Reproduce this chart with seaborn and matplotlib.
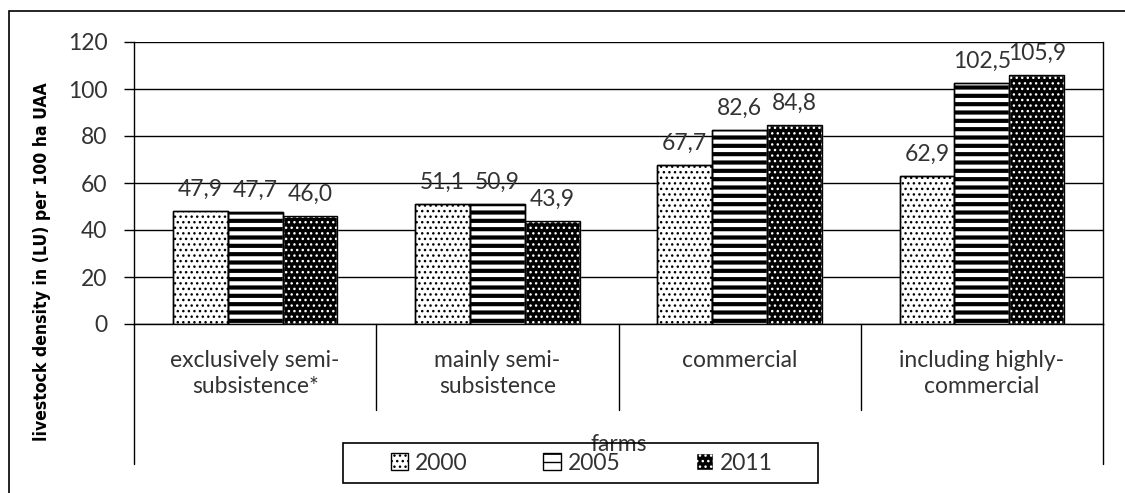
import numpy as np
import pandas as pd
import matplotlib
matplotlib.use('Agg')
import matplotlib.pyplot as plt
import matplotlib.patches as mpatches
from matplotlib import font_manager
import seaborn as sns

# ---------- data ----------
categories = ['exclusively semi-\nsubsistence*', 'mainly semi-\nsubsistence',
              'commercial', 'including highly-\ncommercial']
years = ['2000', '2005', '2011']
v2000 = [47.9, 51.1, 67.7, 62.9]
v2005 = [47.7, 50.9, 82.6, 102.5]
v2011 = [46.0, 43.9, 84.8, 105.9]
yticks = [0, 20, 40, 60, 80, 100, 120]

df = pd.DataFrame({
    'farm': categories * 3,
    'year': [y for y in years for _ in categories],
    'value': v2000 + v2005 + v2011,
})

# ---------- style ----------
sns.set_style('white')
plt.rcParams['font.family'] = ['Lato', 'DejaVu Sans']
txt_col = '#333333'
fs = 16.5

W, H = 1125, 493
fig = plt.figure(figsize=(W / 100, H / 100), dpi=100)
ax = fig.add_axes([134 / W, 1 - 324 / H, (1103 - 134) / W, (324 - 42) / H])

sns.barplot(data=df, x='farm', y='value', hue='year', order=categories,
            hue_order=years, palette=['white'] * 3, width=0.68,
            edgecolor='black', linewidth=1, legend=False, ax=ax, zorder=3)

# hatch styles per year (face, hatch colour, pattern, hatch linewidth)
styles = {
    '2000': ('white', 'black', '...', 1.0),
    '2005': ('white', 'black', '--', 3.0),
    '2011': ('black', 'white', '...', 1.0),
}
for yr, cont in zip(years, ax.containers):
    face, hcol, hatch, hlw = styles[yr]
    for p in cont:
        p.set_facecolor(face)
        p.set_edgecolor(hcol)
        p.set_hatch(hatch)
        if hasattr(p, 'set_hatch_linewidth'):
            p.set_hatch_linewidth(hlw)
        ax.add_patch(mpatches.Rectangle(p.get_xy(), p.get_width(), p.get_height(),
                                        fill=False, ec='black', lw=1, zorder=4))
    vals = [c.get_height() for c in cont]
    ax.bar_label(cont, labels=[f'{v:.1f}'.replace('.', ',') for v in vals],
                 padding=8, fontsize=fs, color=txt_col, zorder=5)

# ---------- axes ----------
ax.set_ylim(0, 120)
ax.set_xlim(-0.5, len(categories) - 0.5)
ax.set_yticks(yticks)
ax.set_yticklabels([str(t) for t in yticks])
ax.yaxis.grid(True, color='black', lw=1)
ax.set_axisbelow(True)
ax.tick_params(axis='y', length=7.2, width=1, direction='out', pad=12,
               labelsize=fs, labelcolor=txt_col, left=True, color='black')
ax.tick_params(axis='x', length=0, pad=19, labelsize=fs, labelcolor=txt_col)
for lab in ax.get_xticklabels():
    lab.set_linespacing(1.3)
ax.set_ylabel('')
ax.set_xlabel('farms', fontsize=fs, color=txt_col)
ax.xaxis.set_label_coords(0.5, -0.39)
ax.spines['top'].set_visible(False)
for s in ['left', 'right', 'bottom']:
    ax.spines[s].set_color('black')
    ax.spines[s].set_linewidth(1)

# category separators of the multi-level axis
bounds = np.arange(len(categories) + 1) - 0.5
for i, b in enumerate(bounds):
    low = -0.495 if i in (0, len(bounds) - 1) else -0.305
    ax.plot([b, b], [0, low], transform=ax.get_xaxis_transform(),
            color='black', lw=1, clip_on=False)

# y label (bold, narrow)
names = {f.name for f in font_manager.fontManager.ttflist}
if 'Liberation Sans Narrow' in names:
    yl_font = dict(family='Liberation Sans Narrow', fontsize=14)
else:
    yl_font = dict(family='DejaVu Sans', stretch='condensed', fontsize=12.6)
fig.text(42 / W, 1 - 262 / H, 'livestock density in (LU) per 100 ha UAA',
         rotation=90, ha='center', va='center', fontweight='bold',
         color='black', **yl_font)

# legend
handles = [mpatches.Patch(facecolor=styles[y][0], edgecolor=styles[y][1],
                          hatch=styles[y][2], label=y) for y in years]
leg = fig.legend(handles=handles, loc='center', ncol=3, frameon=False,
                 bbox_to_anchor=(582 / W, 1 - 463 / H), bbox_transform=fig.transFigure,
                 handlelength=0.75, handleheight=0.75, handletextpad=0.3,
                 columnspacing=3.3, fontsize=fs)
for t in leg.get_texts():
    t.set_color(txt_col)
fig.add_artist(mpatches.Rectangle((343 / W, 1 - 483 / H), (818 - 343) / W, 40 / H,
                                  transform=fig.transFigure, fill=False,
                                  ec='black', lw=1.2))

# outer chart frame
fig.add_artist(mpatches.Rectangle((9 / W, -0.5), 2, 0.5 + 1 - 11 / H,
                                  transform=fig.transFigure, fill=False,
                                  ec='black', lw=1.2))

fig.savefig('out.png', dpi=100)
